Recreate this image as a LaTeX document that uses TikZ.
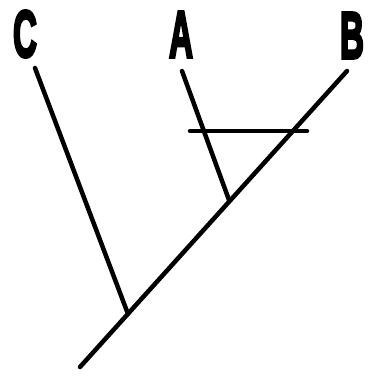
\documentclass[tikz,border=0pt]{standalone}
\usepackage{fontspec}
\usepackage{graphicx}
\newfontfamily\labelfont[FakeBold=5]{Liberation Sans Bold}
\begin{document}
\begin{tikzpicture}[x=1pt,y=-1pt,
  branch/.style={line width=4.5pt,line cap=round},
  taxon/.style={inner sep=0pt}]
\newcommand{\taxlabel}[1]{\scalebox{0.5}[1]{\labelfont\fontsize{66}{66}\selectfont #1}}
\useasboundingbox (0,0) rectangle (370,376);
\node[taxon] (C) at (25,34) {\taxlabel{C}};
\node[taxon] (A) at (181,34.5) {\taxlabel{A}};
\node[taxon] (B) at (352,35.5) {\taxlabel{B}};
\coordinate (root) at (80,367);
\coordinate (cTip) at (35,68);
\coordinate (aTip) at (182,71);
\coordinate (bTip) at (347,71);
\coordinate (jC) at (128,314);
\coordinate (jA) at (229,200);
\coordinate (barL) at (190,131);
\coordinate (barR) at (307,131);
\draw[branch] (root) -- (bTip);
\draw[branch] (cTip) -- (jC);
\draw[branch] (aTip) -- (jA);
\draw[branch] (barL) -- (barR);
\end{tikzpicture}
\end{document}
